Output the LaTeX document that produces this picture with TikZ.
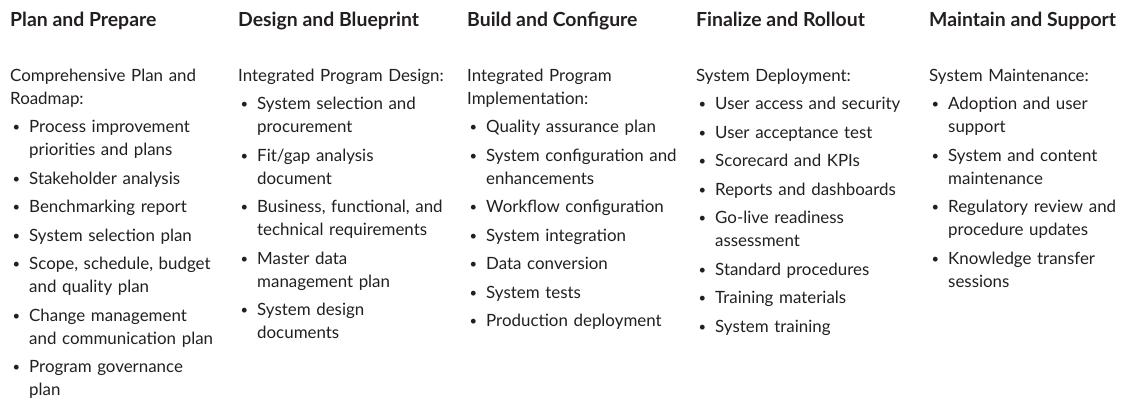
\documentclass[tikz,border=0pt]{standalone}
\usepackage{fontspec}
\setmainfont{Lato}
\usepackage{enumitem}
\usetikzlibrary{positioning}
\definecolor{ink}{HTML}{231F20}
\setlist[itemize]{leftmargin=19pt, labelsep=9pt, itemsep=5.5pt, parsep=0pt,
  topsep=5.5pt, partopsep=0pt,
  label={\raisebox{0.1ex}{\fontsize{13pt}{13pt}\selectfont\textbullet}}}

\begin{document}
\begin{tikzpicture}[
    phase/.style={anchor=base west, inner sep=0pt, text=ink,
      font=\fontsize{19.4pt}{22pt}\selectfont\bfseries},
    tasks/.style={anchor=base west, inner sep=0pt, text=ink, text width=225pt,
      align=left, font=\fontsize{16.9pt}{23pt}\selectfont},
]
    \useasboundingbox (0,0) rectangle (1127pt,-400pt);

    % phase headings
    \node[phase] (plan)     at (10pt,-26pt)  {Plan and Prepare};
    \node[phase] (design)   at (238pt,-26pt) {Design and Blueprint};
    \node[phase] (build)    at (467pt,-26pt) {Build and Configure};
    \node[phase] (rollout)  at (696pt,-26pt) {Finalize and Rollout};
    \node[phase] (maintain) at (929pt,-26pt) {Maintain and Support};

    % deliverables under each phase
    \node[tasks] (planlist) at (10pt,-81pt) {Comprehensive Plan and\newline Roadmap:
      \begin{itemize}
        \item Process improvement\newline priorities and plans
        \item Stakeholder analysis
        \item Benchmarking report
        \item System selection plan
        \item Scope, schedule, budget\newline and quality plan
        \item Change management\newline and communication plan
        \item Program governance\newline plan
      \end{itemize}};
    \node[tasks] (designlist) at (238pt,-81pt) {Integrated Program Design:
      \begin{itemize}
        \item System selection and\newline procurement
        \item Fit/gap analysis\newline document
        \item Business, functional, and\newline technical requirements
        \item Master data\newline management plan
        \item System design\newline documents
      \end{itemize}};
    \node[tasks] (buildlist) at (467pt,-81pt) {Integrated Program\newline Implementation:
      \begin{itemize}
        \item Quality assurance plan
        \item System configuration and\newline enhancements
        \item Workflow configuration
        \item System integration
        \item Data conversion
        \item System tests
        \item Production deployment
      \end{itemize}};
    \node[tasks] (rolloutlist) at (696pt,-81pt) {System Deployment:
      \begin{itemize}
        \item User access and security
        \item User acceptance test
        \item Scorecard and KPIs
        \item Reports and dashboards
        \item Go-live readiness\newline assessment
        \item Standard procedures
        \item Training materials
        \item System training
      \end{itemize}};
    \node[tasks] (maintainlist) at (929pt,-81pt) {System Maintenance:
      \begin{itemize}
        \item Adoption and user\newline support
        \item System and content\newline maintenance
        \item Regulatory review and\newline procedure updates
        \item Knowledge transfer\newline sessions
      \end{itemize}};
\end{tikzpicture}
\end{document}
